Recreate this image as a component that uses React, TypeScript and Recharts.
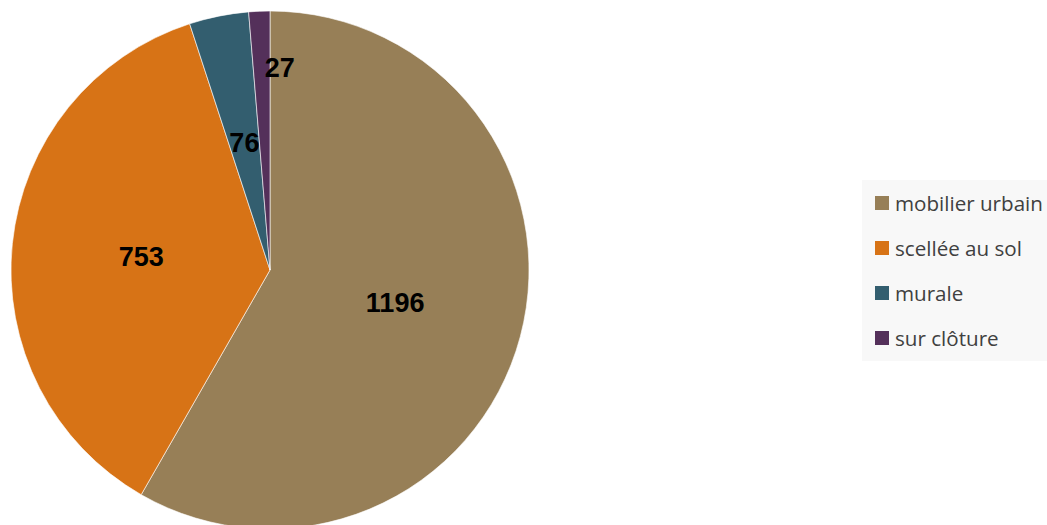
import { PieChart, Pie, Cell, Legend } from 'recharts';

const categories = ['mobilier urbain', 'scellée au sol', 'murale', 'sur clôture'];
const counts = [1196, 753, 76, 27];
const colors = ['#977F57', '#D77316', '#335E6F', '#54305A'];

const data = categories.map((name, i) => ({ name, value: counts[i] }));

const RAD = Math.PI / 180;

function renderLabel(props: any) {
  const { cx, cy, midAngle, outerRadius, percent, value } = props;
  const small = percent < 0.02;
  const r = outerRadius * (small ? 0.78 : 0.5);
  const x = cx + r * Math.cos(-midAngle * RAD);
  const y = cy + r * Math.sin(-midAngle * RAD);
  return (
    <text
      x={small ? x + 3 : x}
      y={y}
      fill="#000"
      textAnchor={small ? 'start' : 'middle'}
      dominantBaseline="central"
      fontFamily="'Liberation Sans', Arial, sans-serif"
      fontWeight="bold"
      fontSize={27}
    >
      {value}
    </text>
  );
}

function LegendBox() {
  return (
    <div style={{ background: '#F8F8F8', width: 185, height: 181, boxSizing: 'border-box' }}>
      {categories.map((name, i) => (
        <div key={name} style={{ display: 'flex', alignItems: 'center', height: 45, paddingLeft: 13 }}>
          <span style={{ width: 14, height: 14, background: colors[i], display: 'inline-block', marginRight: 6 }} />
          <span style={{ fontFamily: "'Open Sans', sans-serif", fontSize: 20.6, color: '#404040', lineHeight: '20px' }}>{name}</span>
        </div>
      ))}
    </div>
  );
}

export default function App() {
  return (
    <div style={{ position: 'fixed', left: 0, top: 0, width: 1047, height: 525, background: '#fff' }}>
      <PieChart width={1047} height={525} margin={{ top: 0, right: 0, bottom: 0, left: 0 }}>
        <Pie
          data={data}
          dataKey="value"
          nameKey="name"
          cx={270}
          cy={270}
          outerRadius={259}
          startAngle={90}
          endAngle={-270}
          stroke="#ffffff"
          strokeWidth={0.6}
          label={renderLabel}
          labelLine={false}
          isAnimationActive={false}
        >
          {data.map((d, i) => (
            <Cell key={d.name} fill={colors[i]} />
          ))}
        </Pie>
        <Legend
          content={() => <LegendBox />}
          wrapperStyle={{ position: 'absolute', left: 862, top: 180, width: 185, height: 181 }}
        />
      </PieChart>
    </div>
  );
}
